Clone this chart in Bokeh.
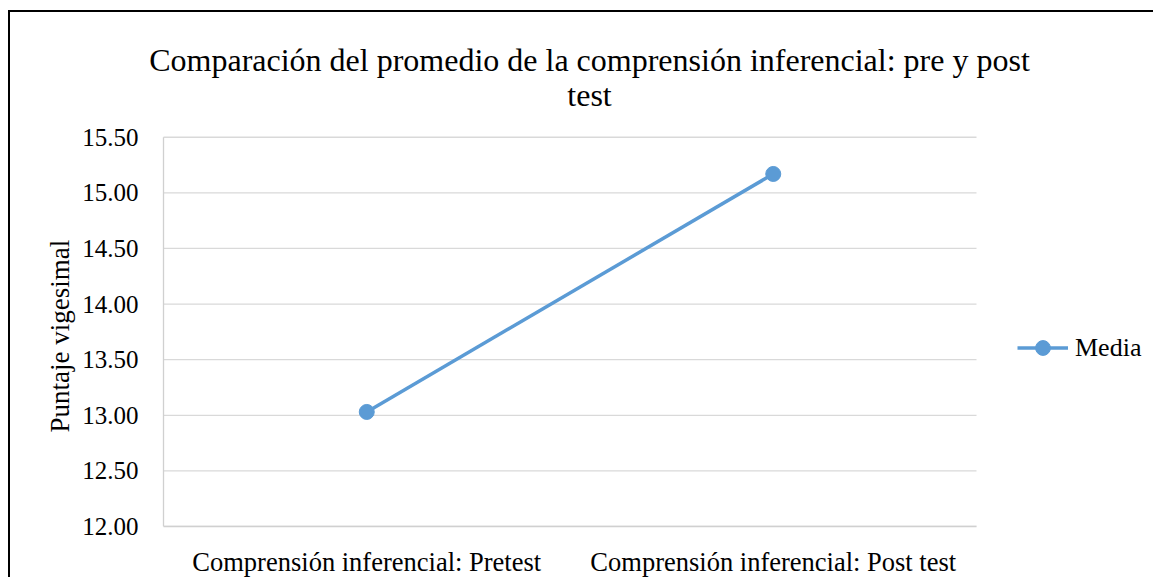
from bokeh.plotting import figure
from bokeh.models import Range1d, FixedTicker, Legend, LegendItem, Label, Title
from bokeh.embed import file_html
from bokeh.resources import INLINE

categories = ["Comprensión inferencial: Pretest", "Comprensión inferencial: Post test"]
media = [13.03, 15.17]
y_ticks = [12.0, 12.5, 13.0, 13.5, 14.0, 14.5, 15.0, 15.5]
y_tick_labels = ["12.00", "12.50", "13.00", "13.50", "14.00", "14.50", "15.00", "15.50"]
title_lines = ["Comparación del promedio de la comprensión inferencial: pre y post", "test"]
y_label = "Puntaje vigesimal"
series_name = "Media"

FONT = "Liberation Serif"
W, H = 1145, 567
LEFT, BOTTOM = 135, 52            # canvas borders
AREA_X0, AREA_X1 = 153, 966        # value area, canvas px
AREA_Y_TOP = 125                   # value area top, canvas px (bottom = frame bottom)
frame_w, frame_h = W - LEFT, H - BOTTOM
n = len(categories)
y0, y1 = y_ticks[0], y_ticks[-1]
px_per_x = (AREA_X1 - AREA_X0) / n
px_per_y = (frame_h - AREA_Y_TOP) / (y1 - y0)

x_pos = [i + 0.5 for i in range(n)]

p = figure(width=W, height=H,
           x_range=Range1d(-(AREA_X0 - LEFT) / px_per_x, (W - AREA_X0) / px_per_x),
           y_range=Range1d(y0, y0 + frame_h / px_per_y),
           output_backend="svg", toolbar_location=None,
           min_border_left=LEFT, min_border_right=0, min_border_top=0, min_border_bottom=BOTTOM)
p.styles = {"border-left": "2px solid black", "border-top": "2px solid black",
            "margin-top": "10px", "margin-left": "8px"}
p.outline_line_color = None
p.background_fill_color = "white"
p.border_fill_color = "white"
p.xgrid.grid_line_color = None
p.ygrid.grid_line_color = None

# horizontal gridlines and left axis line over the value area
p.segment(x0=0, x1=n, y0=y_ticks, y1=y_ticks, line_color="#d9d9d9", line_width=1.3)
p.segment(x0=[0], x1=[0], y0=[y0], y1=[y1], line_color="#d0d0d0", line_width=1.3)

line_r = p.line(x_pos, media, line_color="#5B9BD5", line_width=3.5)
dot_r = p.scatter(x_pos, media, size=15, fill_color="#5B9BD5", line_color="#5B9BD5")

p.xaxis.ticker = FixedTicker(ticks=x_pos)
p.xaxis.major_label_overrides = {x: c for x, c in zip(x_pos, categories)}
p.xaxis.bounds = (0, n)
p.yaxis.ticker = FixedTicker(ticks=y_ticks)
p.yaxis.major_label_overrides = {t: l for t, l in zip(y_ticks, y_tick_labels)}
p.yaxis.axis_line_color = None
p.xaxis.axis_line_color = "#d0d0d0"
p.xaxis.axis_line_width = 1.3
for ax in (p.xaxis[0], p.yaxis[0]):
    ax.major_tick_line_color = None
    ax.minor_tick_line_color = None
    ax.major_label_text_font = FONT
    ax.major_label_text_color = "black"
p.yaxis.major_label_text_font_size = "25px"
p.yaxis.major_label_standoff = 1
p.xaxis.major_label_text_font_size = "26.5px"
p.xaxis.major_label_standoff = 14

# y-axis title, placed along the value area
p.add_layout(Title(text=y_label, align="left", offset=94, standoff=10,
                   text_font=FONT, text_font_size="27px", text_font_style="normal",
                   text_color="black"), "left")

legend = Legend(items=[LegendItem(label=series_name, renderers=[line_r, dot_r])],
                location=(1007 - LEFT, 160), orientation="vertical",
                glyph_width=51, glyph_height=37, label_standoff=7, padding=0, margin=0,
                border_line_color=None, background_fill_alpha=0,
                label_text_font=FONT, label_text_font_size="26px", label_text_color="black")
p.add_layout(legend, "center")

p.add_layout(Label(x=579 - LEFT, y=467, x_units="screen", y_units="screen", text=title_lines[0],
                   text_align="center", text_baseline="alphabetic", text_font=FONT,
                   text_font_size="32px", text_color="black"))
p.add_layout(Label(x=579 - LEFT, y=432, x_units="screen", y_units="screen", text=title_lines[1],
                   text_align="center", text_baseline="alphabetic", text_font=FONT,
                   text_font_size="32px", text_color="black"))

open("out.html", "w").write(file_html(p, INLINE))
